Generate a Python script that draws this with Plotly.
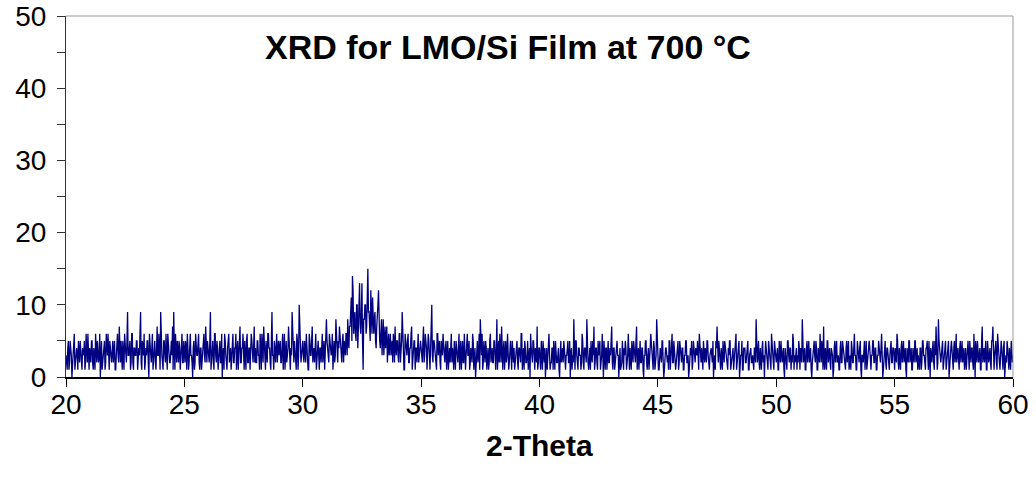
import numpy as np
import plotly.graph_objects as go

# 2-Theta start and step (degrees); samples at every 0.025 deg
theta_start = 20.0
theta_step = 0.025

# Intensity (counts) at 20.00, 20.05, ... (20 values per degree)
counts_20_30 = [
    3,1,5,2,4,0,3,6,2,4,1,3,5,2,4,3,1,6,2,3,
    4,2,5,1,3,6,2,4,3,0,5,2,4,1,6,3,2,5,3,4,
    2,5,1,4,3,7,2,3,5,1,4,2,9,3,5,2,6,1,4,3,
    5,2,3,9,1,4,6,2,3,5,0,4,2,6,3,5,1,7,3,2,
    9,3,1,5,2,4,6,3,2,5,7,9,1,3,5,2,4,3,6,2,
    3,5,1,4,2,6,3,0,5,2,4,3,6,1,4,2,5,3,7,2,
    4,2,9,3,5,1,6,2,4,3,5,2,0,4,6,3,1,5,2,4,
    3,6,2,4,1,5,3,7,2,4,3,5,1,6,2,4,3,5,2,7,
    4,2,5,3,6,1,4,7,3,5,2,6,4,1,9,3,5,2,6,4,
    3,5,2,6,4,1,5,3,7,2,4,9,3,5,2,6,1,10,4,3,
]
counts_30_40 = [
    5,2,4,6,3,1,5,3,7,4,2,6,3,5,1,4,6,2,5,3,
    8,4,2,5,3,6,4,2,8,3,5,7,4,2,6,5,3,6,8,4,
    7,11,14,6,9,5,10,8,13,6,13,1,8,10,7,15,9,5,8,11,
    6,9,4,8,12,5,7,3,8,6,4,7,5,3,6,4,2,5,7,3,
    5,2,6,3,9,4,1,5,3,6,2,4,7,3,5,1,4,6,2,3,
    4,2,7,3,5,1,6,3,4,10,2,5,3,1,6,4,2,5,3,4,
    2,5,3,1,4,6,2,3,5,1,4,2,6,3,1,5,2,4,3,6,
    3,1,4,2,5,3,0,4,2,6,8,3,1,5,2,4,3,1,5,2,
    4,2,5,1,8,3,2,4,7,1,5,3,2,6,1,4,3,5,2,1,
    3,5,1,4,2,6,3,1,4,2,5,3,0,4,2,5,1,3,7,2,
]
counts_40_50 = [
    4,1,3,5,2,0,4,3,6,1,2,4,5,1,3,2,4,0,5,3,
    2,4,1,3,5,2,0,4,3,8,1,5,2,4,3,1,6,2,4,3,
    8,2,4,1,3,5,7,2,4,1,3,5,2,6,0,3,4,1,5,2,
    3,7,1,4,2,5,3,0,4,2,5,1,3,4,2,6,1,3,5,2,
    4,2,7,3,1,5,2,4,0,3,5,1,4,2,6,3,1,4,2,8,
    3,1,4,2,5,0,3,4,2,1,5,3,6,2,4,1,3,5,2,4,
    2,4,1,3,5,2,0,4,3,1,5,2,4,3,1,6,2,4,1,3,
    4,2,5,1,3,4,2,0,3,5,7,2,4,1,3,5,2,4,3,1,
    3,5,2,4,1,3,6,2,4,0,3,5,1,4,2,3,5,1,4,2,
    3,1,4,8,2,5,1,3,4,2,0,5,3,1,4,2,6,3,1,4,
]
counts_50_60 = [
    2,4,1,3,5,2,4,0,3,1,5,2,4,3,6,1,2,4,3,5,
    1,3,8,2,4,1,5,3,2,4,0,3,5,2,4,1,3,6,2,4,
    7,1,3,5,2,4,1,3,0,4,2,5,3,1,4,2,5,3,1,4,
    2,5,3,1,4,2,6,3,1,4,2,5,0,3,4,1,5,2,3,4,
    1,3,5,2,4,1,3,4,2,6,0,3,5,1,4,2,3,5,2,4,
    1,3,6,2,4,1,5,3,2,4,0,3,5,2,4,1,3,5,2,4,
    3,1,4,2,5,3,1,4,2,5,0,3,4,2,5,7,1,8,3,2,
    4,1,3,5,2,4,0,3,5,1,4,2,6,3,1,4,2,5,3,1,
    4,2,5,1,3,4,2,6,0,3,5,2,4,1,7,3,2,5,1,4,
    3,2,5,7,1,4,2,6,3,1,5,2,4,0,3,5,2,4,1,3,
]
count_60 = 3

# Intensity read at the in-between angles 20.025, 20.075, ... (20 values per degree)
mid_20_30 = [
    2,4,1,5,3,2,6,1,4,3,5,2,4,1,3,5,2,4,6,1,
    3,5,2,4,1,3,5,2,6,4,1,3,5,2,4,6,1,3,2,5,
    4,1,3,6,2,4,5,1,3,6,2,5,3,4,1,6,2,4,3,5,
    1,4,6,2,5,3,1,4,5,2,6,3,4,1,5,2,4,3,6,1,
    4,2,5,3,6,1,4,2,5,3,1,4,6,2,3,5,1,4,2,5,
    2,4,6,1,5,3,2,4,1,6,3,5,2,4,1,3,6,2,4,5,
    3,5,1,4,2,6,3,5,1,4,2,6,3,1,5,2,4,6,3,1,
    5,2,4,6,3,1,5,2,4,6,1,3,5,2,4,1,6,3,4,2,
    2,5,3,1,4,6,2,5,1,3,6,4,2,5,3,1,4,6,2,5,
    5,2,4,1,6,3,2,4,5,1,3,6,2,4,1,5,3,6,2,5,
]
mid_30_40 = [
    3,5,2,4,1,6,3,5,2,4,6,1,5,3,4,2,6,3,1,4,
    5,2,6,3,4,1,5,3,6,2,4,6,3,5,2,4,6,3,5,7,
    9,5,12,8,6,10,4,11,7,9,5,8,10,6,11,9,7,12,6,9,
    8,5,7,10,6,4,8,5,3,7,5,2,6,4,3,5,6,2,4,5,
    3,6,2,5,4,1,6,3,5,2,4,6,1,3,5,4,2,6,3,5,
    3,5,2,6,4,3,5,1,6,3,5,4,2,6,3,5,1,4,6,2,
    4,1,5,3,2,6,4,1,3,5,2,4,1,5,3,2,6,1,4,3,
    5,2,3,6,1,4,2,5,3,1,4,6,2,3,5,1,4,2,6,3,
    2,5,3,4,1,5,6,2,3,4,1,5,3,4,2,5,1,3,4,2,
    5,2,4,3,6,1,4,5,2,3,1,4,6,2,5,3,4,2,1,4,
]
mid_40_50 = [
    2,5,1,3,4,2,1,5,3,2,4,1,3,5,2,4,1,3,2,4,
    5,1,3,4,2,5,3,1,2,4,5,3,1,4,3,2,5,1,4,2,
    3,1,4,5,2,3,1,4,2,5,4,1,3,2,5,1,4,3,2,4,
    5,2,4,1,3,5,3,4,1,2,2,4,5,1,3,2,4,1,3,5,
    2,5,1,4,3,2,4,1,3,5,2,3,1,4,5,2,5,1,3,4,
    1,4,3,5,2,1,4,2,3,5,1,4,2,5,3,2,4,1,5,3,
    4,1,3,5,2,3,1,4,5,2,4,2,3,5,1,4,2,3,5,2,
    2,5,3,1,4,3,5,2,1,4,2,5,3,4,1,2,5,3,1,4,
    5,1,3,4,2,4,1,3,5,2,3,1,4,4,2,5,1,3,4,2,
    1,4,2,5,3,2,4,1,5,3,2,4,1,5,3,1,4,2,5,3,
]
mid_50_60 = [
    3,1,5,2,4,3,1,4,2,5,3,4,1,2,5,3,4,1,2,4,
    4,2,5,3,1,4,2,5,3,1,2,4,3,5,1,4,2,3,5,1,
    2,4,1,5,3,2,4,3,1,5,4,2,3,1,5,2,4,3,1,5,
    4,1,3,5,2,4,3,1,5,2,4,1,3,2,5,4,1,3,5,2,
    3,5,2,4,1,3,5,2,4,3,1,5,2,4,3,1,5,2,4,3,
    4,2,5,1,3,4,2,5,3,1,4,2,5,3,1,4,2,5,3,1,
    2,4,1,5,3,2,4,5,1,3,4,2,5,1,3,4,2,5,3,4,
    5,2,4,1,3,5,2,4,3,1,5,3,2,4,1,5,3,2,4,2,
    1,4,3,5,2,4,1,3,5,2,4,3,1,5,2,4,3,1,5,2,
    4,1,5,2,3,5,1,4,2,3,4,1,5,3,2,4,1,3,5,2,
]

title_text = "XRD for LMO/Si Film at 700 °C"
x_title = "2-Theta"

main = counts_20_30 + counts_30_40 + counts_40_50 + counts_50_60
mid = mid_20_30 + mid_30_40 + mid_40_50 + mid_50_60
counts = []
for a, b in zip(main, mid):
    counts.extend([a, b])
counts.append(count_60)
theta = theta_start + theta_step * np.arange(len(counts))

FONT = "Liberation Sans, Arial, sans-serif"

fig = go.Figure()
fig.add_trace(go.Scatter(
    x=theta, y=counts, mode="lines",
    line=dict(color="#000080", width=1.3),
    showlegend=False, hoverinfo="skip",
))

fig.update_layout(
    width=1036, height=486,
    margin=dict(l=66, r=23, t=16, b=109),
    paper_bgcolor="white", plot_bgcolor="white",
    font=dict(family=FONT, size=28, color="black"),
    xaxis=dict(
        range=[20, 60], tick0=20, dtick=5, automargin=False,
        showgrid=False, zeroline=False,
        showline=True, linecolor="black", linewidth=1.5,
        ticks="outside", ticklen=8, tickcolor="black", tickwidth=1,
        tickfont=dict(family=FONT, size=28),
        ticklabelstandoff=-6,
    ),
    yaxis=dict(
        range=[0, 50], tick0=0, dtick=10, automargin=False,
        showgrid=False, zeroline=False,
        showline=True, linecolor="#333333", linewidth=1,
        ticks="outside", ticklen=8, tickcolor="#333333", tickwidth=1,
        tickfont=dict(family=FONT, size=28),
        ticklabelstandoff=5,
        minor=dict(dtick=5, ticks="outside", ticklen=8, tickcolor="#333333", tickwidth=1),
    ),
    shapes=[
        dict(type="line", xref="paper", yref="paper", x0=0, x1=1, y0=1, y1=1,
             line=dict(color="#999999", width=1)),
        dict(type="line", xref="paper", yref="paper", x0=1, x1=1, y0=0, y1=1,
             line=dict(color="#999999", width=1)),
    ],
    annotations=[
        dict(text="<b>" + title_text + "</b>", xref="paper", yref="paper",
             x=0.467, y=0.914, showarrow=False, xanchor="center", yanchor="middle",
             font=dict(family=FONT, size=34, color="black")),
        dict(text="<b>" + x_title + "</b>", xref="paper", yref="paper",
             x=0.5, y=-0.191, showarrow=False, xanchor="center", yanchor="middle",
             font=dict(family=FONT, size=30, color="black")),
    ],
)

fig.write_html("out.html")
